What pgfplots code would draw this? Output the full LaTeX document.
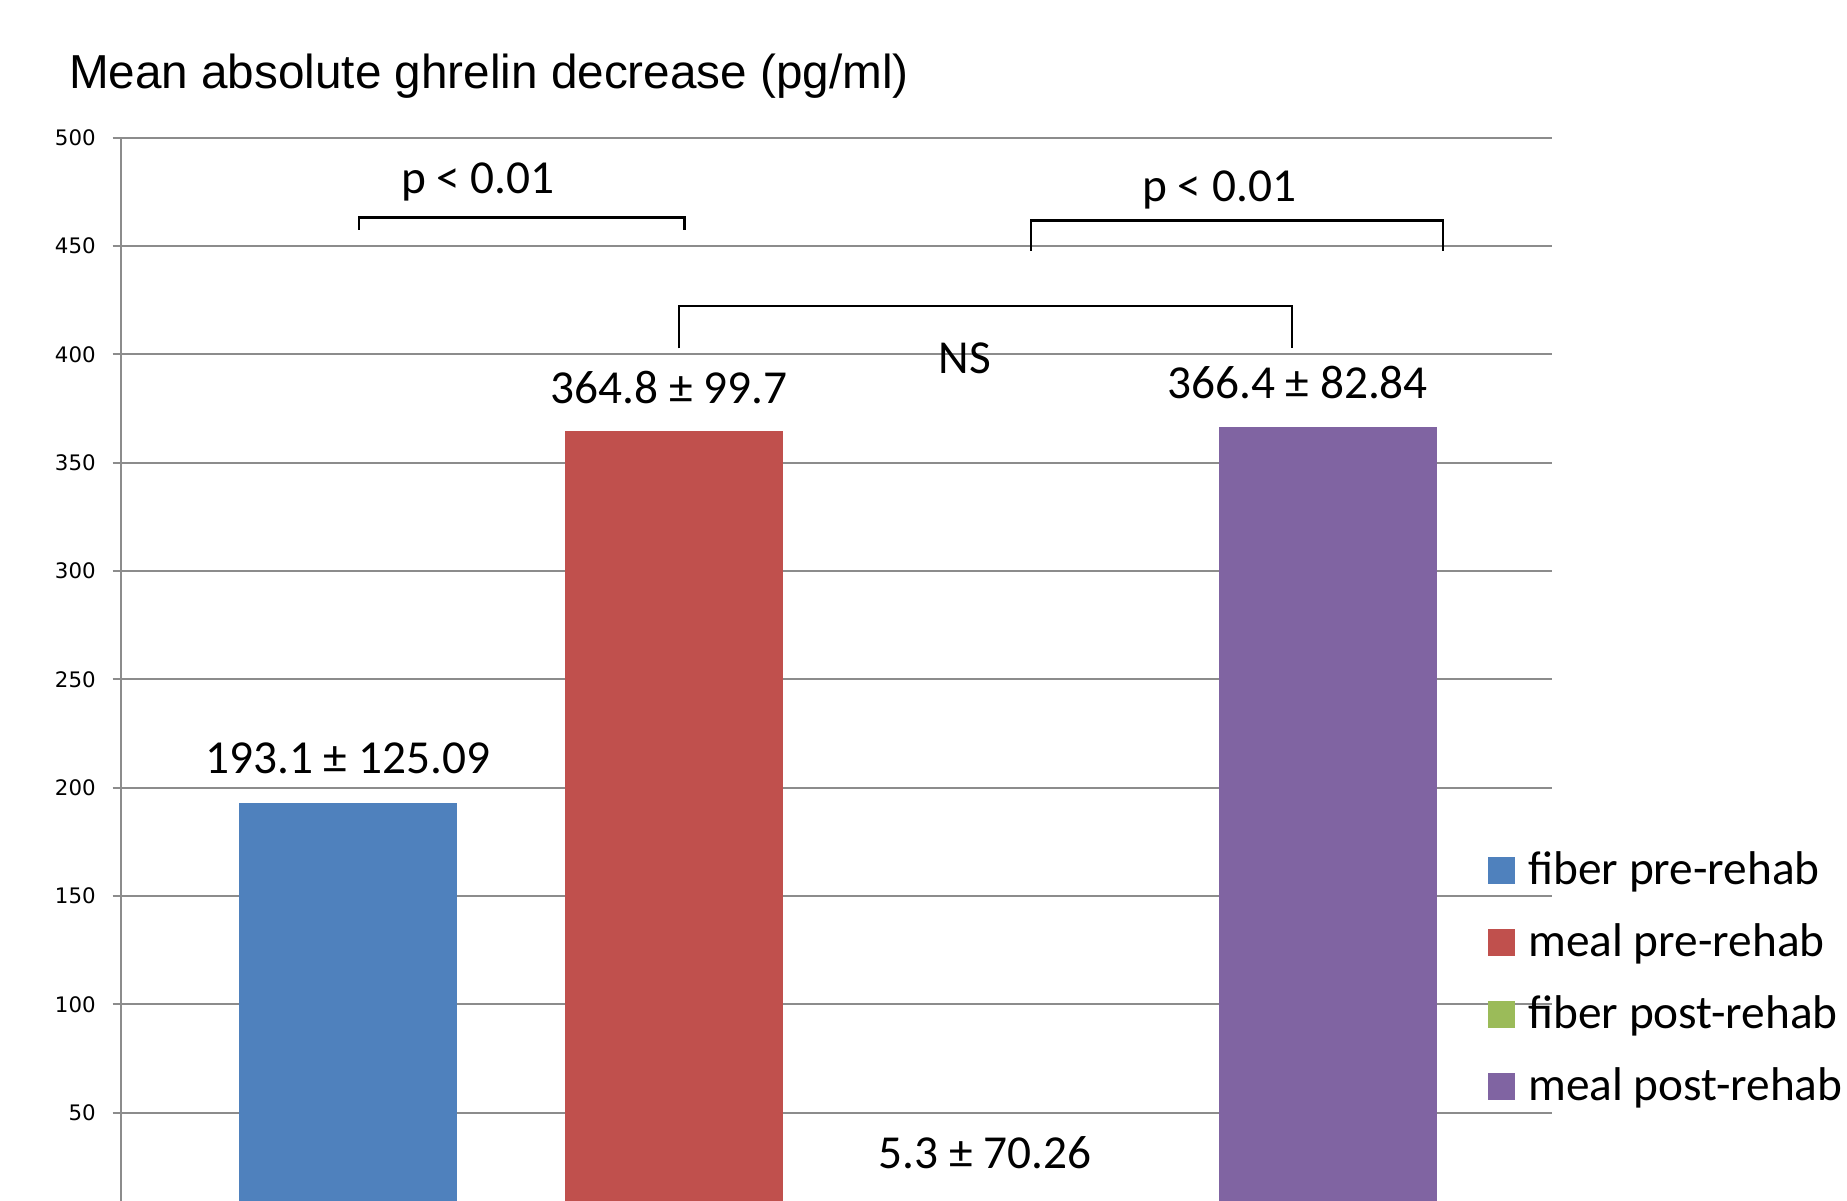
\documentclass[border=0pt]{standalone}
\usepackage{pgfplots}
\pgfplotsset{compat=1.18}
\usepackage{fontspec}
\setmainfont{Carlito}
\newfontfamily\arialf{Liberation Sans}
\newfontfamily\tickf{DejaVu Sans}
\definecolor{cblue}{HTML}{4F81BD}
\definecolor{cred}{HTML}{C0504D}
\definecolor{cgreen}{HTML}{9BBB59}
\definecolor{cpurple}{HTML}{8064A2}
\definecolor{gridgray}{HTML}{8C8C8C}
\begin{document}
\begin{tikzpicture}
\path[use as bounding box] (0,0) rectangle (554.1pt,360pt);
\begin{axis}[
  at={(36.2pt,-2.73pt)}, anchor=south west,
  scale only axis, width=429.4pt, height=321.43pt,
  xmin=-0.695, xmax=3.687, ymin=5.5, ymax=500,
  axis y line*=left, axis x line=none,
  ytick={50,100,...,500},
  ymajorgrids, grid style={gridgray, line width=0.6pt},
  axis line style={gridgray, line width=0.6pt, -},
  tick align=outside, major tick length=2.4pt,
  ytick style={gridgray, line width=0.6pt},
  yticklabel style={font=\tickf\fontsize{6.4}{7}\selectfont, inner sep=0pt, xshift=-4.9pt},
  /pgf/number format/assume math mode=true,
  ybar, bar shift=0pt, bar width=0.6675,
  legend style={at={(0.9546,0.3351)}, anchor=north west, draw=none, fill=none,
    inner sep=0pt, font=\fontsize{14.2}{17}\selectfont,
    nodes={inner sep=0pt, text height=10pt, text depth=3pt},
    row sep=8.6pt, column sep=4.1pt},
  legend image code/.code={\fill[#1] (0pt,-3.5pt) rectangle (8.1pt,4.6pt);},
  legend cell align=left,
]
\addplot[fill=cblue, draw=none] coordinates {(0,193.1)};
\addplot[fill=cred, draw=none] coordinates {(1,364.8)};
\addplot[fill=cgreen, draw=none] coordinates {(2,5.3)};
\addplot[fill=cpurple, draw=none] coordinates {(3,366.4)};
\legend{fiber pre-rehab, meal pre-rehab, fiber post-rehab, meal post-rehab}

\draw[line width=0.75pt] (axis cs:0.035,457.4) |- (axis cs:1.031,463.1) -- (axis cs:1.031,457.4);
\draw[line width=0.75pt] (axis cs:2.092,447.7) |- (axis cs:3.354,461.7) -- (axis cs:3.354,447.7);
\draw[line width=0.75pt] (axis cs:1.015,402.7) |- (axis cs:2.891,422.3) -- (axis cs:2.891,402.7);

\begin{scope}[every node/.style={anchor=base, inner sep=0pt, font=\fontsize{14.2}{17}\selectfont}]
\node at (axis cs:0.399,474.3) {p < 0.01};
\node at (axis cs:2.668,470.5) {p < 0.01};
\node at (axis cs:1.889,391.3) {NS};
\node at (axis cs:0.984,377.4) {364.8 ± 99.7};
\node at (axis cs:2.908,379.7) {366.4 ± 82.84};
\node at (axis cs:0,206.7) {193.1 ± 125.09};
\node at (axis cs:1.951,24.3) {5.3 ± 70.26};
\end{scope}
\end{axis}
\node[anchor=base west, inner sep=0pt, font=\arialf\fontsize{14.3}{17}\selectfont] at (20.5pt,333.5pt) {Mean absolute ghrelin decrease (pg/ml)};
\end{tikzpicture}
\end{document}
